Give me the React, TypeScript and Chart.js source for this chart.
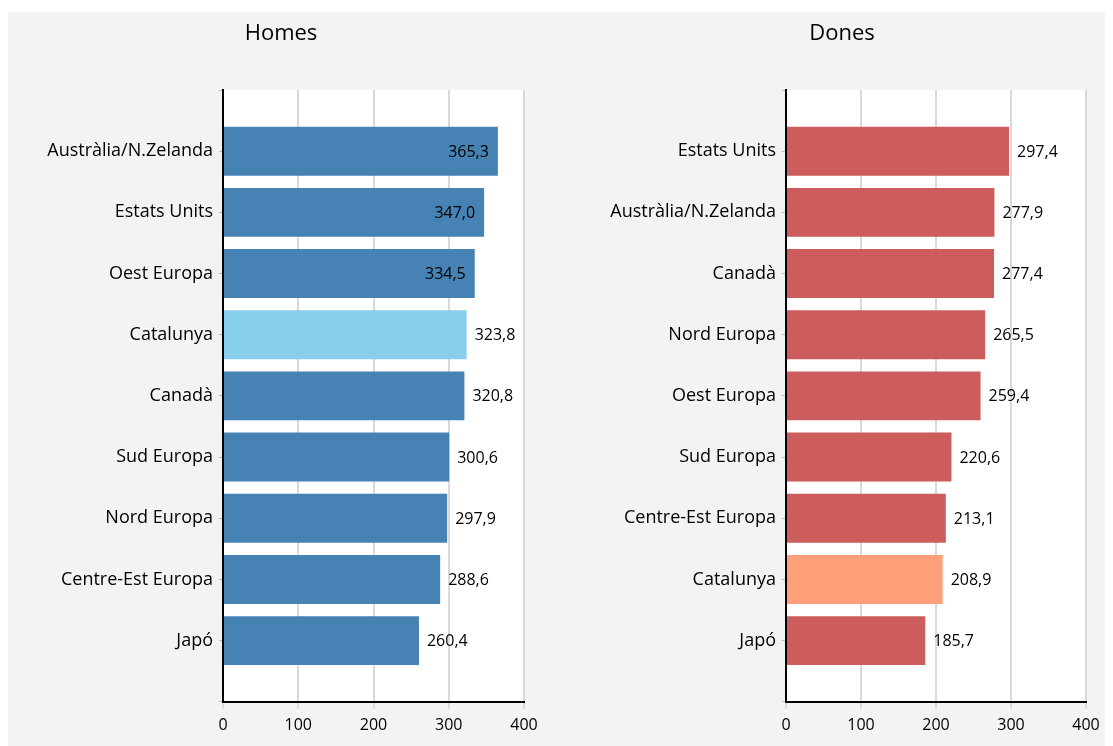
import React, { useEffect, useRef } from 'react';
import { Chart, registerables } from 'chart.js';

Chart.register(...registerables);

const homesCategories = ['Austràlia/N.Zelanda', 'Estats Units', 'Oest Europa', 'Catalunya', 'Canadà', 'Sud Europa', 'Nord Europa', 'Centre-Est Europa', 'Japó'];
const homesValues = [365.3, 347.0, 334.5, 323.8, 320.8, 300.6, 297.9, 288.6, 260.4];
const donesCategories = ['Estats Units', 'Austràlia/N.Zelanda', 'Canadà', 'Nord Europa', 'Oest Europa', 'Sud Europa', 'Centre-Est Europa', 'Catalunya', 'Japó'];
const donesValues = [297.4, 277.9, 277.4, 265.5, 259.4, 220.6, 213.1, 208.9, 185.7];
const xTickValues = [0, 100, 200, 300, 400];
const highlightCategory = 'Catalunya';
const insideLabelMin = 330;

const FONT = '"Open Sans", Lato, sans-serif';

function fmt(v: number) {
  return v.toFixed(1).replace('.', ',');
}

function makeConfig(title: string, cats: string[], vals: number[], color: string, hiColor: string, padRight: number) {
  const labels = ['', ...cats, ''];
  const data = [null, ...vals, null];
  const colors = ['#000', ...cats.map((c) => (c === highlightCategory ? hiColor : color)), '#000'];

  const bgPlugin = {
    id: 'plotBg',
    beforeDraw(chart: any) {
      const { ctx, chartArea } = chart;
      ctx.save();
      ctx.fillStyle = '#ffffff';
      ctx.fillRect(chartArea.left, chartArea.top, chartArea.right - chartArea.left, chartArea.bottom - chartArea.top);
      ctx.restore();
    },
  };

  const headPlugin = {
    id: 'headTitle',
    afterDraw(chart: any) {
      const { ctx } = chart;
      ctx.save();
      ctx.font = `22px ${FONT}`;
      ctx.fillStyle = '#000';
      ctx.textAlign = 'center';
      ctx.textBaseline = 'middle';
      ctx.fillText(title, chart.width / 2, 22);
      ctx.restore();
    },
  };

  const valuePlugin = {
    id: 'valueLabels',
    afterDatasetsDraw(chart: any) {
      const { ctx } = chart;
      const meta = chart.getDatasetMeta(0);
      ctx.save();
      ctx.font = `16px ${FONT}`;
      ctx.fillStyle = '#000';
      ctx.textBaseline = 'middle';
      meta.data.forEach((el: any, i: number) => {
        const v = data[i];
        if (v === null || v === undefined) return;
        if (v > insideLabelMin) {
          ctx.textAlign = 'right';
          ctx.fillText(fmt(v), el.x - 9, el.y + 1);
        } else {
          ctx.textAlign = 'left';
          ctx.fillText(fmt(v), el.x + 8, el.y + 1);
        }
      });
      ctx.restore();
    },
  };

  return {
    type: 'bar',
    data: {
      labels,
      datasets: [
        {
          data,
          backgroundColor: colors,
          borderWidth: 0,
          barPercentage: 0.8,
          categoryPercentage: 1.0,
        },
      ],
    },
    options: {
      indexAxis: 'y',
      animation: false,
      responsive: false,
      layout: { padding: { left: 0, right: padRight, top: 78, bottom: 4 } },
      plugins: {
        legend: { display: false },
        title: { display: false },
        tooltip: { enabled: false },
      },
      scales: {
        x: {
          type: 'linear',
          min: 0,
          max: 400,
          afterBuildTicks(scale: any) {
            scale.ticks = xTickValues.map((v) => ({ value: v }));
          },
          ticks: {
            color: '#000',
            font: { family: FONT, size: 16 },
            padding: 7,
            maxRotation: 0,
          },
          grid: { color: '#d9d9d9', lineWidth: 2, tickLength: 7 },
          border: { display: true, color: '#000', width: 2 },
        },
        y: {
          type: 'category',
          offset: false,
          afterFit(scale: any) {
            scale.width = 215;
          },
          ticks: {
            color: '#000',
            font: { family: FONT, size: 18 },
            padding: 6,
            autoSkip: false,
          },
          grid: { display: true, drawOnChartArea: false, drawTicks: true, tickLength: 4, color: '#bbbbbb', offset: false },
          border: { display: true, color: '#000', width: 2 },
        },
      },
    },
    plugins: [bgPlugin, headPlugin, valuePlugin],
  };
}

function BarPanel(props: { title: string; cats: string[]; vals: number[]; color: string; hiColor: string; width: number; padRight: number }) {
  const ref = useRef<HTMLCanvasElement | null>(null);
  useEffect(() => {
    if (!ref.current) return;
    const chart = new Chart(ref.current, makeConfig(props.title, props.cats, props.vals, props.color, props.hiColor, props.padRight) as any);
    return () => chart.destroy();
  }, []);
  return <canvas ref={ref} width={props.width} height={734} style={{ display: 'block' }} />;
}

export default function App() {
  return (
    <div style={{ paddingTop: 4 }}>
      <div style={{ position: 'relative', width: 1105, height: 734, background: '#f3f3f3' }}>
        <div style={{ position: 'absolute', left: 0, top: 0 }}>
          <BarPanel title="Homes" cats={homesCategories} vals={homesValues} color="#4682b4" hiColor="#87ceeb" width={546} padRight={30} />
        </div>
        <div style={{ position: 'absolute', left: 563, top: 0 }}>
          <BarPanel title="Dones" cats={donesCategories} vals={donesValues} color="#cd5c5c" hiColor="#ffa07a" width={542} padRight={27} />
        </div>
      </div>
    </div>
  );
}
